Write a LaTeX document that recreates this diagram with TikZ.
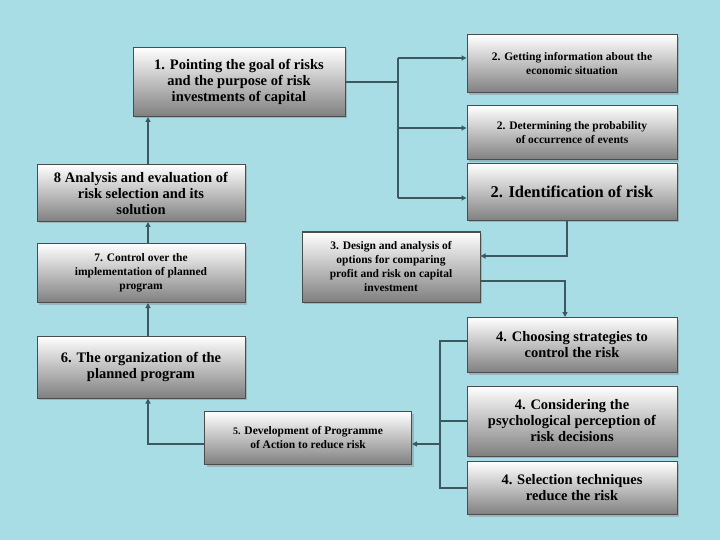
\documentclass[tikz,border=0pt]{standalone}
\usepackage{fontspec}
\setmainfont{Liberation Serif}
\usetikzlibrary{shadows,arrows.meta}
\definecolor{bg}{HTML}{A8DDE6}
\definecolor{lnc}{HTML}{3E5860}
\begin{document}
\begin{tikzpicture}[x=1pt,y=-1pt,
 bx/.style={draw=black!70,line width=1pt,top color=white,bottom color=black!50,drop shadow={shadow xshift=2pt,shadow yshift=-2pt,opacity=.4},align=center,font=\bfseries\fontsize{14.5}{16}\selectfont,inner sep=2pt},
 sm/.style={font=\bfseries\fontsize{11.5}{14}\selectfont},
 ln/.style={draw=lnc,line width=1.6pt},
 ar/.style={ln,-{Triangle[length=5pt,width=5pt]}}]
\fill[bg] (0,0) rectangle (720,540);
\node[bx,minimum width=212,minimum height=69] (b1) at (239,82) {1. Pointing the goal of risks\\and the purpose of risk\\investments of capital};
\node[bx,sm,minimum width=210,minimum height=58] (b2a) at (572,64) {2. Getting information about the\\economic situation};
\node[bx,sm,minimum width=210,minimum height=54] (b2b) at (572,133) {2. Determining the probability\\of occurrence of events};
\node[bx,font=\bfseries\fontsize{16.5}{18}\selectfont,minimum width=210,minimum height=57] (b2c) at (572,192) {2. Identification of risk};
\node[bx,minimum width=208,minimum height=57] (b8) at (141,193) {8 Analysis and evaluation of\\risk selection and its\\solution};
\node[bx,sm,minimum width=208,minimum height=59] (b7) at (141,273) {7. Control over the\\implementation of planned\\program};
\node[bx,sm,minimum width=178,minimum height=70] (b3) at (391,267) {3. Design and analysis of\\options for comparing\\profit and risk on capital\\investment};
\node[bx,minimum width=210,minimum height=55] (b4a) at (572,345) {4. Choosing strategies to\\control the risk};
\node[bx,minimum width=208,minimum height=62] (b6) at (141,367) {6. The organization of the\\planned program};
\node[bx,sm,minimum width=207,minimum height=53] (b5) at (308,438) {{\fontsize{10}{14}\selectfont 5.} Development of Programme\\of Action to reduce risk};
\node[bx,minimum width=210,minimum height=70] (b4b) at (572,421) {4. Considering the\\psychological perception of\\risk decisions};
\node[bx,minimum width=210,minimum height=53] (b4c) at (572,488) {4. Selection techniques\\reduce the risk};
% connectors
\draw[ln] (b1.east|-0,82) -- (398,82);
\draw[ar] (398,58) -- (b2a.west|-0,58);
\draw[ln] (398,58) -- (398,198);
\draw[ar] (398,128) -- (b2b.west|-0,128);
\draw[ar] (398,198) -- (b2c.west|-0,198);
\draw[ar] (567,220.5) -- (567,256) -- (b3.east|-0,256);
\draw[ar] (b3.east|-0,281) -- (565,281) -- (b4a.north-|565,0);
\draw[ln] (b4a.west|-0,341) -- (440,341) -- (440,488) -- (b4c.west|-0,488);
\draw[ln] (440,421) -- (b4b.west|-0,421);
\draw[ar] (440,444) -- (b5.east|-0,444);
\draw[ar] (b5.west|-0,444) -- (148,444) -- (b6.south-|148,0);
\draw[ar] (b6.north-|148,0) -- (b7.south-|148,0);
\draw[ar] (b7.north-|148,0) -- (b8.south-|148,0);
\draw[ar] (b8.north-|148,0) -- (b1.south-|148,0);
\end{tikzpicture}
\end{document}
